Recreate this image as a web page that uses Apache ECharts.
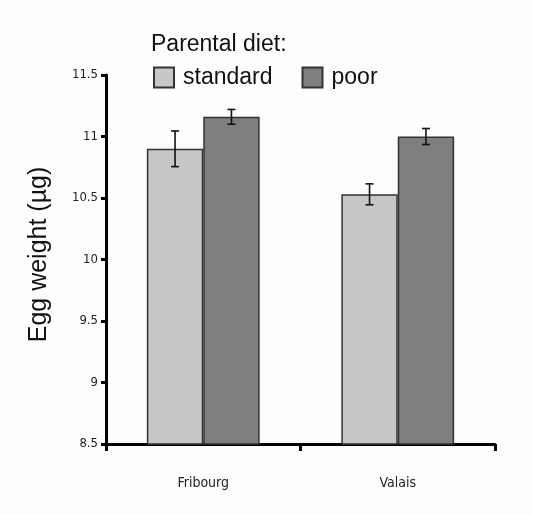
<!DOCTYPE html>
<html>
<head>
<meta charset="utf-8">
<script src="https://cdn.jsdelivr.net/npm/echarts@6/dist/echarts.min.js"></script>
<style>
  html, body { margin: 0; padding: 0; background: #fdfdfd; }
  #box { width: 533px; height: 515px; }
</style>
</head>
<body>
<div id="box"></div>
<script>
// data
var sites = ["Fribourg", "Valais"];
var standardMean = [10.9, 10.53];
var standardErr = [0.145, 0.085];
var poorMean = [11.16, 11.0];
var poorErr = [0.06, 0.065];

var gapPct = 0.42; // barCategoryGap
var narrow = "'DejaVu Sans Condensed', 'Liberation Sans Narrow', sans-serif";

var chart = echarts.init(document.getElementById("box"));

function errorBars(means, errs, side) {
  var data = [];
  for (var i = 0; i < means.length; i++) {
    data.push([i, means[i] - errs[i], means[i] + errs[i]]);
  }
  return {
    type: "custom",
    silent: true,
    z: 10,
    data: data,
    renderItem: function (params, api) {
      var band = api.size([1, 0])[0];
      var barW = band * (1 - gapPct) / 2;
      var lo = api.coord([api.value(0), api.value(1)]);
      var hi = api.coord([api.value(0), api.value(2)]);
      var x = lo[0] + side * barW / 2;
      var cap = 4;
      var st = { stroke: "#111", lineWidth: 1.6 };
      return {
        type: "group",
        children: [
          { type: "line", shape: { x1: x, y1: lo[1], x2: x, y2: hi[1] }, style: st },
          { type: "line", shape: { x1: x - cap, y1: lo[1], x2: x + cap, y2: lo[1] }, style: st },
          { type: "line", shape: { x1: x - cap, y1: hi[1], x2: x + cap, y2: hi[1] }, style: st }
        ]
      };
    }
  };
}

var option = {
  backgroundColor: "#fdfdfd",
  animation: false,
  title: {
    text: "Parental diet:",
    left: 146,
    top: 28,
    textStyle: { fontFamily: "Liberation Sans", fontSize: 23, fontWeight: "normal", color: "#111" }
  },
  legend: {
    data: ["standard", "poor"],
    left: 148,
    top: 61,
    icon: "rect",
    itemWidth: 20,
    itemHeight: 20,
    itemGap: 29,
    textStyle: { fontFamily: "Liberation Sans", fontSize: 23, color: "#111", padding: [0, 0, 0, 4] }
  },
  grid: { left: 106, right: 38, top: 75, bottom: 71 },
  xAxis: {
    type: "category",
    data: sites,
    axisLine: { lineStyle: { color: "#000", width: 3 } },
    axisTick: { show: true, length: 7, lineStyle: { color: "#000", width: 3 } },
    axisLabel: {
      margin: 32,
      fontFamily: narrow,
      fontSize: 14,
      color: "#222"
    }
  },
  yAxis: {
    type: "value",
    min: 8.5,
    max: 11.5,
    interval: 0.5,
    name: "Egg weight (µg)",
    nameLocation: "middle",
    nameGap: 54,
    nameTextStyle: { fontFamily: "Liberation Sans", fontSize: 25, color: "#111", padding: [0, 0, 0, 10] },
    splitLine: { show: false },
    axisLine: { show: true, lineStyle: { color: "#000", width: 3 } },
    axisTick: { show: true, length: 5, lineStyle: { color: "#000", width: 3 } },
    axisLabel: {
      margin: 8,
      fontFamily: narrow,
      fontSize: 13,
      color: "#222"
    }
  },
  series: [
    {
      name: "standard",
      type: "bar",
      data: standardMean,
      barGap: "0%",
      barCategoryGap: "42%",
      itemStyle: { color: "#c8c6c8", borderColor: "#333", borderWidth: 1.5 }
    },
    {
      name: "poor",
      type: "bar",
      data: poorMean,
      barGap: "0%",
      barCategoryGap: "42%",
      itemStyle: { color: "#807e80", borderColor: "#333", borderWidth: 1.5 }
    },
    errorBars(standardMean, standardErr, -1),
    errorBars(poorMean, poorErr, 1)
  ]
};

chart.setOption(option);
</script>
</body>
</html>
